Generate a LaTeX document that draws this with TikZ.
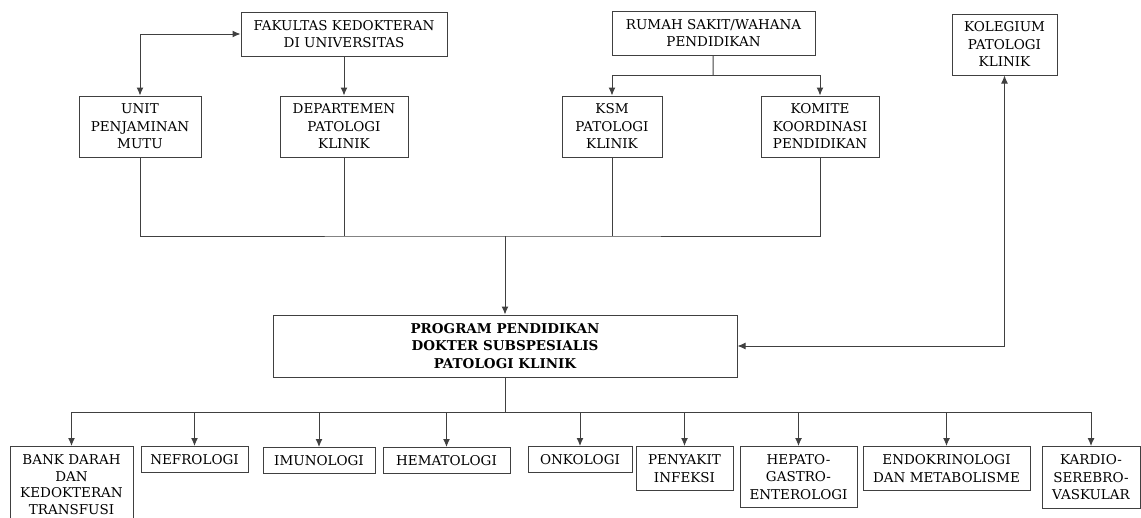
\documentclass[tikz,border=0pt]{standalone}
\usepackage{fontspec}
\setmainfont{DejaVu Serif}
\usetikzlibrary{arrows.meta}

\begin{document}
\begin{tikzpicture}[x=1pt,y=-1pt,
 block/.style={rectangle,draw=black!75,line width=1pt,inner sep=2pt,align=center,
 font=\fontsize{13.5}{17.5}\selectfont},
 arrow/.style={->,line width=1pt,draw=black!75,>={Latex[length=8pt,width=7pt]}},
 link/.style={line width=1pt,draw=black!75}]
\useasboundingbox (0,0) rectangle (1141,517);
% top row
\node[block,minimum width=206pt,minimum height=44pt] (fk) at (344,34) {FAKULTAS KEDOKTERAN\\DI UNIVERSITAS};
\node[block,minimum width=203pt,minimum height=44pt] (rs) at (713.5,33) {RUMAH SAKIT/WAHANA\\PENDIDIKAN};
\node[block,minimum width=105pt,minimum height=61pt] (kol) at (1004.5,44.5) {KOLEGIUM\\PATOLOGI\\KLINIK};
% second row
\node[block,minimum width=122pt,minimum height=61pt] (upm) at (140,126.5) {UNIT\\PENJAMINAN\\MUTU};
\node[block,minimum width=128pt,minimum height=61pt] (dep) at (344,126.5) {DEPARTEMEN\\PATOLOGI\\KLINIK};
\node[block,minimum width=100pt,minimum height=61pt] (ksm) at (612,126.5) {KSM\\PATOLOGI\\KLINIK};
\node[block,minimum width=118pt,minimum height=61pt] (kom) at (820,126.5) {KOMITE\\KOORDINASI\\PENDIDIKAN};
% program
\node[block,minimum width=464pt,minimum height=62pt,font=\fontsize{13.5}{17.5}\selectfont\bfseries] (prog) at (505,346) {PROGRAM PENDIDIKAN\\DOKTER SUBSPESIALIS\\PATOLOGI KLINIK};
% divisions
\node[block,anchor=north,minimum width=123pt,minimum height=76pt,font=\fontsize{13.5}{16.5}\selectfont] (bank) at (71.5,446) {BANK DARAH\\DAN\\KEDOKTERAN\\TRANSFUSI};
\node[block,anchor=north,minimum width=107pt,minimum height=26pt] (nef) at (194.5,446) {NEFROLOGI};
\node[block,anchor=north,minimum width=112pt,minimum height=26pt] (imu) at (319,447) {IMUNOLOGI};
\node[block,anchor=north,minimum width=127pt,minimum height=26pt] (hem) at (446.5,447) {HEMATOLOGI};
\node[block,anchor=north,minimum width=104pt,minimum height=26pt] (onk) at (580,446) {ONKOLOGI};
\node[block,anchor=north,minimum width=97pt,minimum height=44pt] (inf) at (684.5,446) {PENYAKIT\\INFEKSI};
\node[block,anchor=north,minimum width=117pt,minimum height=61pt] (hep) at (798.5,446) {HEPATO-\\GASTRO-\\ENTEROLOGI};
\node[block,anchor=north,minimum width=167pt,minimum height=44pt] (endo) at (946.5,446) {ENDOKRINOLOGI\\DAN METABOLISME};
\node[block,anchor=north,minimum width=98pt,minimum height=62pt] (kar) at (1091,446) {KARDIO-\\SEREBRO-\\VASKULAR};
% junctions
\coordinate (rsj) at (713,75);
\coordinate (busU) at (505,236);
\coordinate (busD) at (505,412);
% connectors
\draw[arrow,<->] (fk.west) -| (upm);
\draw[arrow] (fk) -- (dep);
\draw[link] (rs) -- (rsj);
\draw[arrow] (rsj) -| (ksm);
\draw[arrow] (rsj) -| (kom);
\draw[link] (upm) |- (busU) -| (kom);
\draw[link] (dep) -- (dep |- busU);
\draw[link] (ksm) -- (ksm |- busU);
\draw[arrow] (busU) -- (prog);
\draw[arrow,<->] (kol) |- (prog);
\draw[link] (prog) -- (busD);
\draw[arrow] (busD) -| (bank);
\draw[arrow] (busD) -| (nef);
\draw[arrow] (busD) -| (imu);
\draw[arrow] (busD) -| (hem);
\draw[arrow] (busD) -| (onk);
\draw[arrow] (busD) -| (inf);
\draw[arrow] (busD) -| (hep);
\draw[arrow] (busD) -| (endo);
\draw[arrow] (busD) -| (kar);
\end{tikzpicture}
\end{document}
